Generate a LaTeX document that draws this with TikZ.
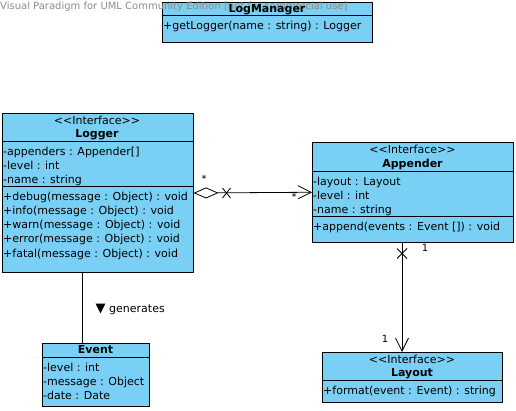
\documentclass[tikz,border=0pt]{standalone}
\usepackage{fontspec}
\setmainfont{DejaVu Sans}[Ligatures=TeXOff]
\usetikzlibrary{arrows.meta}
\definecolor{umlfill}{RGB}{122,207,245}
\tikzset{
  umlbox/.style={draw,fill=umlfill,line width=1pt,anchor=north west,inner sep=0pt},
  head/.style={align=center,inner sep=0pt,font=\fontsize{11}{13.5}\selectfont},
  rows/.style={anchor=north west,align=left,inner xsep=1pt,inner ysep=5.5pt,font=\fontsize{11}{14.3}\selectfont},
  mult/.style={inner sep=0pt,font=\fontsize{10}{12}\selectfont},
  assoc/.style={line width=.8pt}
}
\begin{document}
\begin{tikzpicture}[x=1pt,y=-1pt]
  \useasboundingbox (0,0) rectangle (516,410);
  % classes
  \node[umlbox,minimum width=210,minimum height=40] (logmgr) at (162,2) {};
  \node[umlbox,minimum width=190.5,minimum height=159] (logger) at (2,113) {};
  \node[umlbox,minimum width=201,minimum height=99.5] (appender) at (312,142) {};
  \node[umlbox,minimum width=107,minimum height=63.5] (event) at (42,342.5) {};
  \node[umlbox,minimum width=180,minimum height=50] (layout) at (322,352) {};
  \draw[line width=1pt] (logmgr.west |- 0,15) -- (logmgr.east |- 0,15);
  \draw[line width=1pt] (logger.west |- 0,141) -- (logger.east |- 0,141);
  \draw[line width=1pt] (logger.west |- 0,186) -- (logger.east |- 0,186);
  \draw[line width=1pt] (appender.west |- 0,171) -- (appender.east |- 0,171);
  \draw[line width=1pt] (appender.west |- 0,216) -- (appender.east |- 0,216);
  \draw[line width=1pt] (event.west |- 0,357) -- (event.east |- 0,357);
  \draw[line width=1pt] (layout.west |- 0,380) -- (layout.east |- 0,380);
  \node[anchor=west,inner sep=0pt,text=black!45,font=\fontsize{10}{11}\selectfont] (wm) at (0,7)
    {Visual Paradigm for UML Community Edition [not for commercial use]};
  % texts
  \node[head] (logmgrh) at (267,9.5) {\textbf{LogManager}};
  \node[rows] (logmgrm) at (162,15) {+getLogger(name : string) : Logger};
  \node[head] (loggerh) at (97,128) {<<Interface>>\\\textbf{Logger}};
  \node[rows] (loggera) at (2,141) {-appenders : Appender[]\\-level : int\\-name : string};
  \node[rows] (loggerm) at (2,186) {+debug(message : Object) : void\\+info(message : Object) : void\\+warn(message : Object) : void\\+error(message : Object) : void\\+fatal(message : Object) : void};
  \node[head] (appenderh) at (412.5,157.5) {<<Interface>>\\\textbf{Appender}};
  \node[rows] (appendera) at (312,171) {-layout : Layout\\-level : int\\-name : string};
  \node[rows] (appenderm) at (312,216) {+append(events : Event []) : void};
  \node[head] (eventh) at (95.5,350) {\textbf{Event}};
  \node[rows,font=\fontsize{11}{14}\selectfont] (eventa) at (42,357) {-level : int\\-message : Object\\-date : Date};
  \node[head] (layouth) at (412,367) {<<Interface>>\\\textbf{Layout}};
  \node[rows] (layoutm) at (322,380) {+format(event : Event) : string};
  % connectors
  \coordinate (gen) at (82,0);
  \coordinate (lay) at (402,0);
  \draw[assoc,{Diamond[open,length=25pt,width=11pt]}-{Straight Barb[length=13pt,width=13pt]}]
    (logger.east) -- (appender.west);
  \draw[assoc] (logger.east) ++(33,0) +(-4,-5) -- +(4,5) +(-4,5) -- +(4,-5);
  \draw[assoc,-{Straight Barb[length=13pt,width=13pt]}] (appender.south -| lay) -- (layout.north -| lay);
  \draw[assoc] (appender.south -| lay) ++(0,11) +(-5,-5) -- +(5,5) +(-5,5) -- +(5,-5);
  \draw[assoc] (logger.south -| gen) -- (event.north -| gen);
  \node[mult] (m1) at (204,179) {*};
  \node[mult] (m2) at (294,197) {*};
  \node[mult] (m3) at (425,248) {1};
  \node[mult] (m4) at (385,339) {1};
  \node[anchor=west,inner sep=0pt,font=\fontsize{11}{13}\selectfont] (genl) at (95.5,309)
    {{\fontsize{13}{13}\selectfont ▼} generates};
\end{tikzpicture}
\end{document}
